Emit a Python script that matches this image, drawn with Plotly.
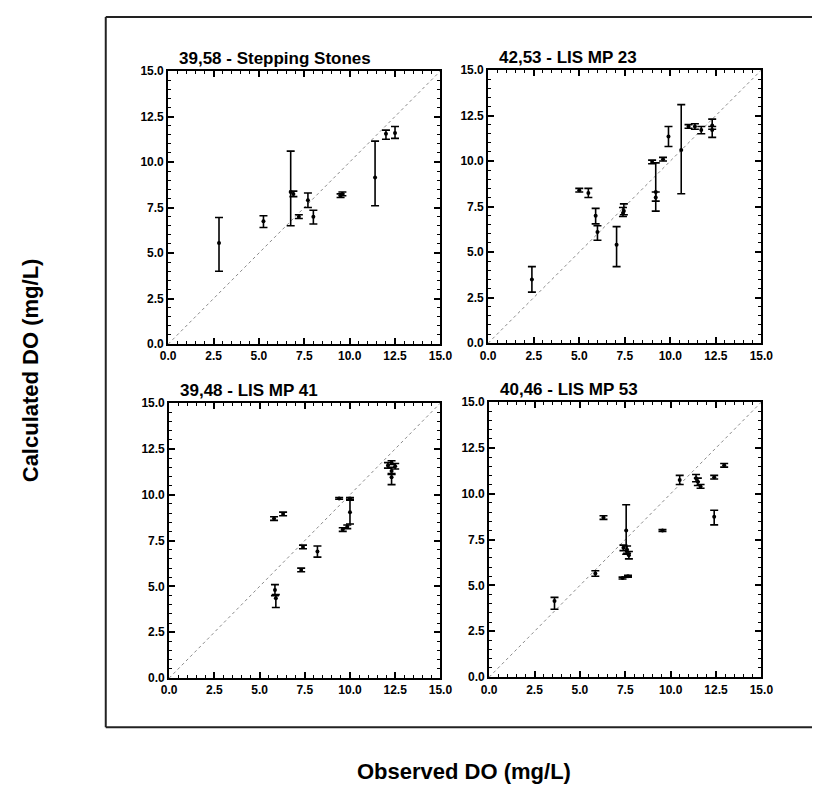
import plotly.graph_objects as go

W, H = 820, 794
OFF = 8  # page body margin offset (measured)

titles = ["39,58 - Stepping Stones", "42,53 - LIS MP 23", "39,48 - LIS MP 41", "40,46 - LIS MP 53"]
tick_vals = [0.0, 2.5, 5.0, 7.5, 10.0, 12.5, 15.0]
tick_text = ["0.0", "2.5", "5.0", "7.5", "10.0", "12.5", "15.0"]

obs1 = [2.8, 5.25, 6.75, 6.9, 7.2, 7.7, 8.0, 9.5, 9.6, 11.4, 12.0, 12.5]
calc1 = [5.55, 6.75, 8.35, 8.25, 7.0, 7.9, 7.0, 8.15, 8.25, 9.15, 11.55, 11.6]
up1 = [1.4, 0.3, 2.25, 0.15, 0.1, 0.4, 0.35, 0.1, 0.1, 2.0, 0.2, 0.35]
dn1 = [1.55, 0.35, 1.85, 0.15, 0.1, 0.4, 0.4, 0.1, 0.1, 1.55, 0.3, 0.3]

obs2 = [2.4, 5.0, 5.5, 5.9, 6.0, 7.05, 7.4, 7.45, 9.0, 9.6, 9.2, 9.2, 9.9, 10.6, 11.0, 11.35, 11.7, 12.3, 12.3]
calc2 = [3.5, 8.4, 8.25, 7.0, 6.1, 5.4, 7.15, 7.25, 9.95, 10.1, 8.3, 8.0, 11.35, 10.6, 11.9, 11.9, 11.7, 11.95, 11.7]
up2 = [0.7, 0.1, 0.25, 0.4, 0.35, 1.0, 0.3, 0.4, 0.1, 0.1, 1.6, 0.3, 0.55, 2.5, 0.1, 0.15, 0.2, 0.35, 0.2]
dn2 = [0.7, 0.1, 0.25, 0.45, 0.45, 1.2, 0.2, 0.2, 0.1, 0.1, 0.5, 0.75, 0.55, 2.4, 0.1, 0.15, 0.2, 0.2, 0.4]

obs3 = [5.8, 6.3, 5.85, 5.9, 7.4, 7.3, 8.2, 9.4, 10.0, 10.0, 9.6, 9.85, 12.1, 12.3, 12.5, 12.3, 12.3]
calc3 = [8.7, 8.95, 4.8, 4.35, 7.15, 5.9, 6.9, 9.8, 9.8, 9.05, 8.1, 8.25, 11.6, 11.75, 11.55, 11.3, 10.95]
up3 = [0.1, 0.1, 0.3, 0.2, 0.1, 0.1, 0.3, 0.05, 0.05, 0.65, 0.1, 0.1, 0.15, 0.1, 0.15, 0.2, 0.2]
dn3 = [0.1, 0.1, 0.3, 0.5, 0.1, 0.1, 0.3, 0.05, 0.05, 0.65, 0.1, 0.1, 0.15, 0.1, 0.15, 0.2, 0.4]

obs4 = [3.6, 5.85, 6.3, 7.55, 7.4, 7.6, 7.7, 7.35, 7.65, 9.55, 10.5, 11.4, 11.5, 11.65, 12.4, 12.4, 12.95]
calc4 = [4.15, 5.65, 8.7, 8.0, 7.05, 6.95, 6.65, 5.4, 5.5, 8.0, 10.75, 10.85, 10.65, 10.4, 10.9, 8.75, 11.55]
up4 = [0.2, 0.15, 0.1, 1.4, 0.15, 0.2, 0.2, 0.05, 0.05, 0.05, 0.25, 0.2, 0.2, 0.1, 0.1, 0.35, 0.1]
dn4 = [0.45, 0.15, 0.1, 1.3, 0.15, 0.2, 0.2, 0.05, 0.05, 0.05, 0.25, 0.2, 0.2, 0.1, 0.1, 0.45, 0.1]

diag = [0.0, 15.0]

panels = [(obs1, calc1, up1, dn1), (obs2, calc2, up2, dn2), (obs3, calc3, up3, dn3), (obs4, calc4, up4, dn4)]

# screen-pixel boxes (left, top, right, bottom)
boxes = [(164, 65, 443, 343), (492, 64, 772, 342), (165, 403, 443, 683), (493, 402, 772, 682)]


def px(x):
    return (x - OFF) / W


def py(y):
    return 1 - (y - OFF) / H


fig = go.Figure()
FONT = "Liberation Sans"

for i, ((ox, cy, up, dn), (l, t, r, b)) in enumerate(zip(panels, boxes)):
    n = i + 1
    xa = "x" if n == 1 else f"x{n}"
    ya = "y" if n == 1 else f"y{n}"
    fig.add_trace(go.Scatter(x=diag, y=diag, mode="lines", xaxis=xa, yaxis=ya,
                             line=dict(color="#8a8a8a", width=1, dash="dot"), showlegend=False, hoverinfo="skip"))
    fig.add_trace(go.Scatter(x=ox, y=cy, mode="markers", xaxis=xa, yaxis=ya,
                             marker=dict(color="black", size=4),
                             error_y=dict(type="data", symmetric=False, array=up, arrayminus=dn,
                                          color="black", thickness=1.6, width=4),
                             showlegend=False))
    axis_common = dict(range=[0, 15], tickvals=tick_vals, ticktext=tick_text, ticks="inside", ticklen=6,
                       tickwidth=1.5, tickcolor="black", showline=True, linecolor="black", linewidth=2,
                       mirror="ticks", showgrid=False, zeroline=False, fixedrange=True,
                       tickfont=dict(family=FONT, size=12, color="black", weight="bold"),
                       minor=dict(dtick=0.5, ticks="inside", ticklen=3, tickwidth=1, tickcolor="black"))
    xname = "xaxis" if n == 1 else f"xaxis{n}"
    yname = "yaxis" if n == 1 else f"yaxis{n}"
    fig.layout[xname] = dict(axis_common, domain=[px(l), px(r)], anchor=ya)
    fig.layout[yname] = dict(axis_common, domain=[py(b), py(t)], anchor=xa)
    fig.add_annotation(text=titles[i], xref="paper", yref="paper", x=px(l + 9), y=py(t - 1),
                       xanchor="left", yanchor="bottom", showarrow=False,
                       font=dict(family=FONT, size=17, color="black", weight="bold"))

# outer frame (left, top, bottom; right edge runs off the page)
frame = dict(color="#222222", width=2)
fig.add_shape(type="line", xref="paper", yref="paper", x0=px(100), x1=px(100), y0=py(733), y1=py(10), line=frame)
fig.add_shape(type="line", xref="paper", yref="paper", x0=px(100), x1=1.2, y0=py(10), y1=py(10), line=frame)
fig.add_shape(type="line", xref="paper", yref="paper", x0=px(100), x1=1.2, y0=py(733), y1=py(733), line=frame)

fig.add_annotation(text="Calculated DO (mg/L)", xref="paper", yref="paper", x=px(23), y=py(370),
                   textangle=-90, showarrow=False, xanchor="center", yanchor="middle",
                   font=dict(family=FONT, size=22, color="black", weight="bold"))
fig.add_annotation(text="Observed DO (mg/L)", xref="paper", yref="paper", x=px(467), y=py(778),
                   showarrow=False, xanchor="center", yanchor="middle",
                   font=dict(family=FONT, size=22, color="black", weight="bold"))

fig.update_layout(width=W, height=H, margin=dict(l=0, r=0, t=0, b=0), paper_bgcolor="white",
                  plot_bgcolor="white", showlegend=False)

fig.write_html("out.html")
